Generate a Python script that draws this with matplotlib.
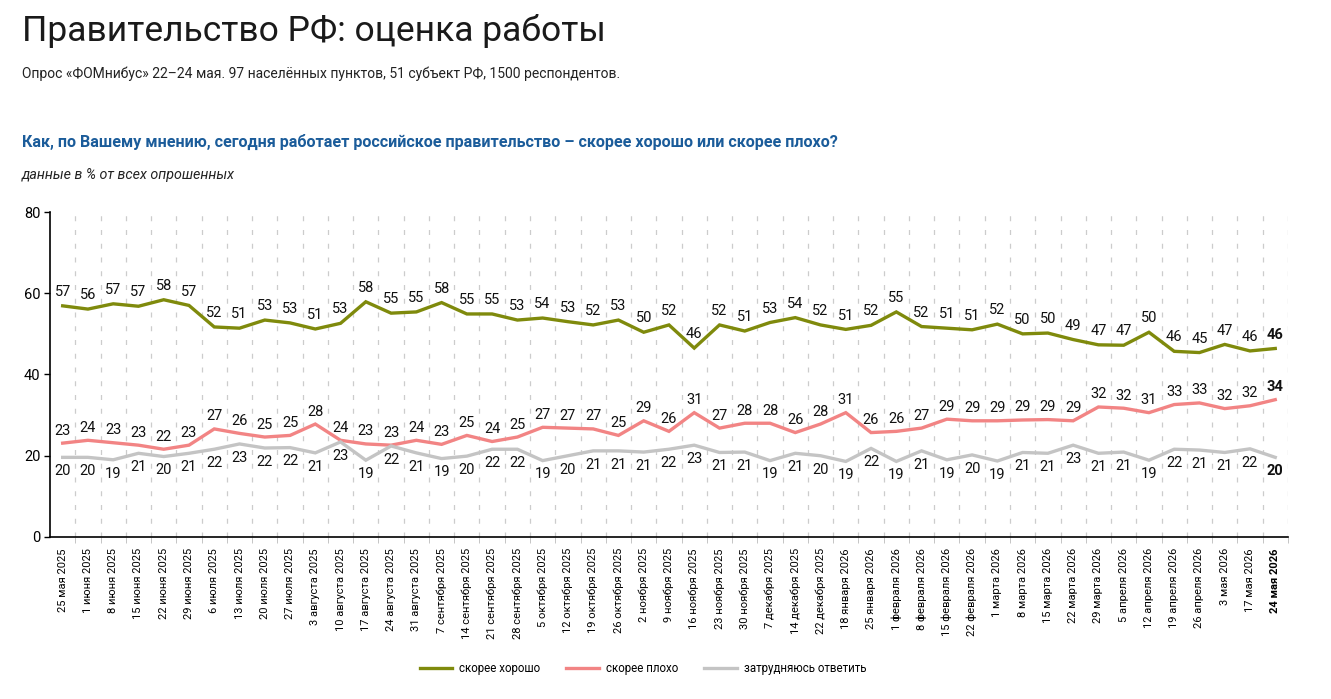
import matplotlib
matplotlib.use('Agg')
import matplotlib.pyplot as plt
from matplotlib.ticker import FixedLocator

plt.rcParams['font.family'] = ['Roboto', 'DejaVu Sans']
plt.rcParams['font.stretch'] = 'condensed'

# даты опросов
dates = ['25 мая 2025', '1 июня 2025', '8 июня 2025', '15 июня 2025', '22 июня 2025',
         '29 июня 2025', '6 июля 2025', '13 июля 2025', '20 июля 2025', '27 июля 2025',
         '3 августа 2025', '10 августа 2025', '17 августа 2025', '24 августа 2025',
         '31 августа 2025', '7 сентября 2025', '14 сентября 2025', '21 сентября 2025',
         '28 сентября 2025', '5 октября 2025', '12 октября 2025', '19 октября 2025',
         '26 октября 2025', '2 ноября 2025', '9 ноября 2025', '16 ноября 2025',
         '23 ноября 2025', '30 ноября 2025', '7 декабря 2025', '14 декабря 2025',
         '22 декабря 2025', '18 января 2026', '25 января 2026', '1 февраля 2026',
         '8 февраля 2026', '15 февраля 2026', '22 февраля 2026', '1 марта 2026',
         '8 марта 2026', '15 марта 2026', '22 марта 2026', '29 марта 2026',
         '5 апреля 2026', '12 апреля 2026', '19 апреля 2026', '26 апреля 2026',
         '3 мая 2026', '17 мая 2026', '24 мая 2026']

# скорее хорошо
good = [56.9, 56.1, 57.4, 56.8, 58.4, 57.0, 51.7, 51.4, 53.4, 52.7,
        51.2, 52.6, 57.9, 55.1, 55.4, 57.7, 54.9, 54.9, 53.4, 53.9,
        53.0, 52.2, 53.4, 50.4, 52.2, 46.5, 52.2, 50.7, 52.8, 54.0,
        52.2, 51.1, 52.1, 55.4, 51.8, 51.4, 51.0, 52.4, 50.0, 50.2,
        48.6, 47.3, 47.2, 50.4, 45.7, 45.4, 47.4, 45.8, 46.4]
# скорее плохо
bad = [23.1, 23.8, 23.2, 22.6, 21.6, 22.6, 26.6, 25.5, 24.6, 25.0,
       27.8, 23.8, 22.9, 22.6, 23.8, 22.8, 25.0, 23.5, 24.6, 27.0,
       26.8, 26.6, 25.0, 28.6, 26.0, 30.6, 26.8, 28.0, 28.0, 25.7,
       27.8, 30.6, 25.7, 26.0, 26.8, 29.0, 28.6, 28.6, 28.8, 28.9,
       28.6, 32.0, 31.7, 30.6, 32.6, 33.0, 31.6, 32.3, 33.8]
# затрудняюсь ответить
hard = [19.6, 19.6, 19.0, 20.6, 19.8, 20.6, 21.6, 22.9, 21.9, 22.0,
        20.7, 23.4, 18.9, 22.4, 20.7, 19.3, 19.9, 21.6, 21.6, 18.8,
        20.0, 21.2, 21.2, 20.9, 21.6, 22.6, 20.8, 20.9, 18.8, 20.6,
        20.0, 18.6, 21.8, 18.6, 21.2, 19.0, 20.2, 18.7, 20.8, 20.6,
        22.6, 20.6, 20.9, 18.9, 21.6, 21.4, 20.8, 21.7, 19.6]

series = [
    ('скорее хорошо', good, '#7f8a0c', 10),
    ('скорее плохо', bad, '#f28484', 9),
    ('затрудняюсь ответить', hard, '#c4c4c4', -10),
]

fig = plt.figure(figsize=(13.31, 6.99), dpi=100)
ax = fig.add_axes([0.0376, 0.2318, 0.93, 0.4649])

x = list(range(len(dates)))
n = len(dates)

for name, vals, col, dy in series:
    ax.plot(x, vals, color=col, lw=2.4, label=name, solid_joinstyle='miter', zorder=3)
    for i, v in enumerate(vals):
        last = (i == n - 1)
        ax.annotate('{:.0f}'.format(v), (i, v), xytext=(0, dy), textcoords='offset points',
                    ha='center', va='center', fontsize=10.5, color='#111111',
                    fontweight='bold' if last else 'normal', zorder=4)

ax.set_xlim(-0.5, n - 0.5)
ax.set_ylim(0, 80)
ax.set_yticks([0, 20, 40, 60, 80])
ax.tick_params(axis='y', labelsize=10.5, length=4, width=1, direction='out', pad=3)

# подписи дат
ax.set_xticks(x)
ax.set_xticklabels(dates, rotation=90, fontsize=8, va='top')
ax.get_xticklabels()[-1].set_fontweight('bold')
ax.tick_params(axis='x', which='major', length=0, pad=8)
ax.xaxis.set_minor_locator(FixedLocator([i + 0.5 for i in range(n)]))
ax.tick_params(axis='x', which='minor', length=4, color='#bbbbbb')

# вертикальные пунктиры
for b in range(n):
    ax.axvline(b + 0.5, color='#cccccc', lw=0.9, ls=(0, (4, 7)), zorder=1)

ax.spines['top'].set_visible(False)
ax.spines['right'].set_visible(False)
ax.spines['left'].set_linewidth(1.2)
ax.spines['bottom'].set_linewidth(1.2)

fig.text(0.0165, 0.955, 'Правительство РФ: оценка работы', fontsize=25.5, va='center',
         color='#1a1a1a')
fig.text(0.0165, 0.894, 'Опрос «ФОМнибус» 22–24 мая. 97 населённых пунктов, 51 субъект РФ, 1500 респондентов.',
         fontsize=10, va='center', color='#222222')
fig.text(0.0165, 0.797, 'Как, по Вашему мнению, сегодня работает российское правительство – скорее хорошо или скорее плохо?',
         fontsize=11.6, va='center', color='#1b5c9a', fontweight='bold')
fig.text(0.0165, 0.750, 'данные в % от всех опрошенных', fontsize=10.3, va='center',
         color='#222222', style='italic')

fig.legend(loc='center', bbox_to_anchor=(0.483, 0.044), ncol=3, frameon=False,
           fontsize=8.3, handlelength=2.8, handletextpad=0.6, columnspacing=2.3)

fig.savefig('out.png', dpi=100)
